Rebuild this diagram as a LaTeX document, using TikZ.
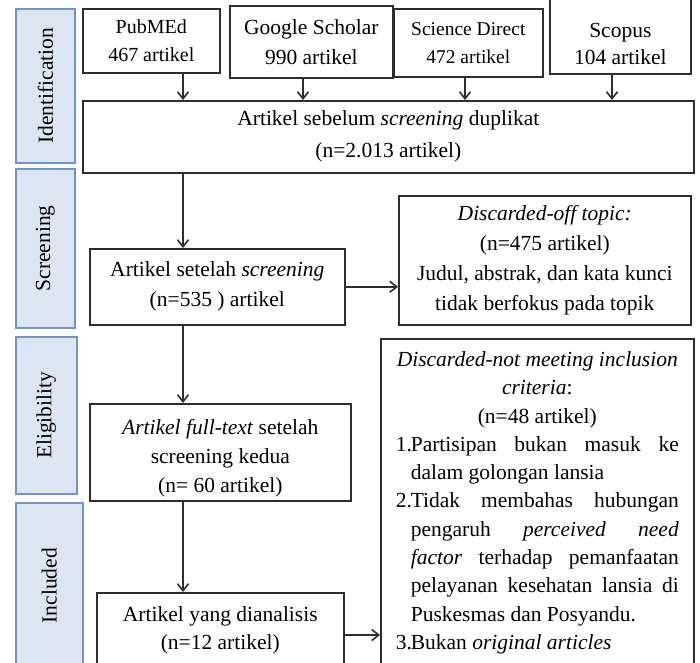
\documentclass[tikz,border=0pt]{standalone}
\usepackage{fontspec}
\setmainfont{Liberation Serif}
\usetikzlibrary{arrows.meta}
\definecolor{sidefill}{HTML}{DCE6F2}
\definecolor{sidedraw}{HTML}{7396C8}
\definecolor{boxline}{HTML}{2E2E2E}
\tikzset{
 box/.style={draw=boxline, line width=1.6pt, anchor=north west, inner sep=0pt, align=center, font=\fontsize{21.5}{30}\selectfont},
 bigbox/.style={draw=boxline, line width=1.6pt, anchor=north west, inner sep=0pt},
 side/.style={draw=sidedraw, fill=sidefill, line width=1.6pt, anchor=north west, inner sep=0pt},
 sidetext/.style={rotate=90, font=\fontsize{21.5}{24}\selectfont},
 arr/.style={-{Straight Barb[length=7pt,width=11pt,line width=1.6pt]}, line width=1.6pt, draw=boxline}
}
\begin{document}
\begin{tikzpicture}[x=1pt,y=-1pt]
\useasboundingbox (0,0) rectangle (700,662);
% side labels
\node[side, minimum width=59pt, minimum height=154pt] (sid) at (15,8) {};
\node[sidetext] (tid) at (sid.center) {Identification};
\node[side, minimum width=59pt, minimum height=159pt] (ssc) at (15,168) {};
\node[sidetext] (tsc) at (ssc.center) {Screening};
\node[side, minimum width=61pt, minimum height=157pt] (sel) at (15,336) {};
\node[sidetext] (tel) at (sel.center) {Eligibility};
\node[side, minimum width=67pt, minimum height=166pt] (sin) at (15,502) {};
\node[sidetext] (tin) at (sin.center) {Included};
% sources
\node[box, minimum width=137pt, minimum height=64pt, font=\fontsize{20}{28}\selectfont] (pub) at (82,8) {PubMEd\\467 artikel};
\node[box, minimum width=163pt, minimum height=72pt] (gs) at (229,5) {Google Scholar\\990 artikel};
\node[box, minimum width=149pt, minimum height=68pt, font=\fontsize{19.5}{28}\selectfont] (sd) at (393,8) {Science Direct\\472 artikel};
\node[box, minimum width=141pt, minimum height=78pt, font=\fontsize{21.5}{27.5}\selectfont] (sc) at (549,-5) {\rule{0pt}{33pt}Scopus\\104 artikel};
% main flow
\node[box, minimum width=611pt, minimum height=72pt, font=\fontsize{21.5}{32}\selectfont] (art) at (82,100) {Artikel sebelum \textit{screening} duplikat\\(n=2.013 artikel)};
\node[box, minimum width=255pt, minimum height=76pt] (scr) at (89,248) {Artikel setelah \textit{screening}\\(n=535 ) artikel};
\node[box, minimum width=292pt, minimum height=129pt] (off) at (398,195) {\textit{Discarded-off topic:}\\(n=475 artikel)\\Judul, abstrak, dan kata kunci\\tidak berfokus pada topik};
\node[box, minimum width=261pt, minimum height=97pt, font=\fontsize{21.5}{29}\selectfont] (elig) at (89,403) {\rule{0pt}{27pt}\textit{Artikel full-text} setelah\\screening kedua\\(n= 60 artikel)};
\node[box, minimum width=247pt, minimum height=75pt, font=\fontsize{21.5}{28}\selectfont] (incl) at (96,592) {Artikel yang dianalisis\\(n=12 artikel)};
\node[bigbox, minimum width=313pt, minimum height=328pt] (notm) at (380,338) {%
\begin{minipage}{283pt}\fontsize{21.5}{28.3}\selectfont
\centering\textit{Discarded-not meeting inclusion}\\
\textit{criteria}:\\
(n=48 artikel)\par
\leftskip=0pt \rightskip=0pt \parfillskip=0pt plus 1fil \parindent=0pt
\hangindent=15pt \hangafter=1 \makebox[15pt][l]{1.}Partisipan bukan masuk ke\linebreak dalam golongan lansia\par
\hangindent=15pt \hangafter=1 \makebox[15pt][l]{2.}Tidak membahas hubungan\linebreak pengaruh \textit{perceived need}\linebreak \textit{factor} terhadap pemanfaatan\linebreak pelayanan kesehatan lansia di\linebreak Puskesmas dan Posyandu.\par
\hangindent=15pt \hangafter=1 \makebox[15pt][l]{3.}Bukan \textit{original articles}\par
\end{minipage}};
% arrow positions
\coordinate (c1) at (183,0);
\coordinate (c2) at (303,0);
\coordinate (c3) at (465,0);
\coordinate (c4) at (612,0);
\coordinate (yi) at (0,635);
\draw[arr] (pub.south -| c1) -- (art.north -| c1);
\draw[arr] (gs.south -| c2) -- (art.north -| c2);
\draw[arr] (sd.south -| c3) -- (art.north -| c3);
\draw[arr] (sc.south -| c4) -- (art.north -| c4);
\draw[arr] (art.south -| c1) -- (scr.north -| c1);
\draw[arr] (scr.east) -- (scr.east -| off.west);
\draw[arr] (scr.south -| c1) -- (elig.north -| c1);
\draw[arr] (elig.south -| c1) -- (incl.north -| c1);
\draw[arr] (incl.east |- yi) -- (notm.west |- yi);
\end{tikzpicture}
\end{document}
